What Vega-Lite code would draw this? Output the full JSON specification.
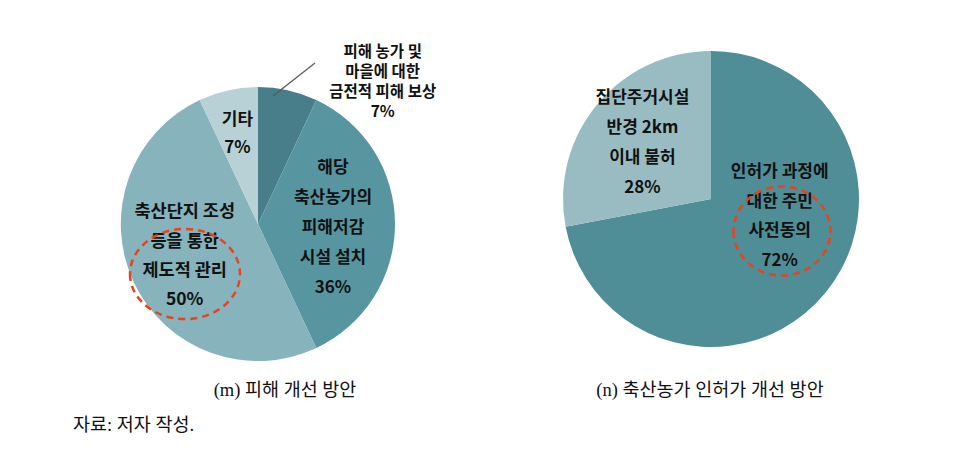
{
  "$schema": "https://vega.github.io/schema/vega-lite/v6.json",
  "background": "white",
  "padding": 0,
  "spacing": 0,
  "bounds": "flush",
  "resolve": {"scale": {"color": "independent", "theta": "independent"}},
  "config": {"view": {"stroke": null}},
  "datasets": {
    "m": [
      {"idx": 1, "item": "금전적 피해 보상", "value": 7, "label": ["피해 농가 및", "마을에 대한", "금전적 피해 보상", "7%"]},
      {"idx": 2, "item": "피해저감 시설 설치", "value": 36, "label": ["해당", "축산농가의", "피해저감", "시설 설치", "36%"]},
      {"idx": 3, "item": "제도적 관리", "value": 50, "label": ["축산단지 조성", "등을 통한", "제도적 관리", "50%"]},
      {"idx": 4, "item": "기타", "value": 7, "label": ["기타", "7%"]}
    ],
    "n": [
      {"idx": 1, "item": "주민 사전동의", "value": 72, "label": ["인허가 과정에", "대한 주민", "사전동의", "72%"]},
      {"idx": 2, "item": "2km 이내 불허", "value": 28, "label": ["집단주거시설", "반경 2km", "이내 불허", "28%"]}
    ]
  },
  "hconcat": [
    {
      "width": 516,
      "height": 448,
      "layer": [
        {
          "data": {"name": "m"},
          "mark": {"type": "arc", "radius": 137},
          "encoding": {
            "theta": {"field": "value", "type": "quantitative", "stack": true},
            "order": {"field": "idx", "type": "quantitative"},
            "color": {
              "field": "item", "type": "nominal", "legend": null,
              "scale": {
                "domain": ["금전적 피해 보상", "피해저감 시설 설치", "제도적 관리", "기타"],
                "range": ["#477E89", "#5796A1", "#86B3BC", "#B8D1D6"]
              }
            }
          }
        },
        {
          "data": {"name": "m"},
          "mark": {"type": "text", "radius": 75, "dy": -56, "font": "Noto Sans CJK KR", "fontWeight": "bold", "fontSize": 17, "lineHeight": 30, "color": "#111111", "align": "center", "baseline": "middle"},
          "encoding": {
            "theta": {"field": "value", "type": "quantitative", "stack": true},
            "order": {"field": "idx", "type": "quantitative"},
            "text": {"condition": {"test": "datum.idx == 2", "field": "label"}, "value": ""}
          }
        },
        {
          "data": {"name": "m"},
          "mark": {"type": "text", "radius": 81, "dy": -46, "font": "Noto Sans CJK KR", "fontWeight": "bold", "fontSize": 17.5, "lineHeight": 29.3, "color": "#111111", "align": "center", "baseline": "middle"},
          "encoding": {
            "theta": {"field": "value", "type": "quantitative", "stack": true},
            "order": {"field": "idx", "type": "quantitative"},
            "text": {"condition": {"test": "datum.idx == 3", "field": "label"}, "value": ""}
          }
        },
        {
          "data": {"name": "m"},
          "mark": {"type": "text", "radius": 94, "dy": -12, "font": "Noto Sans CJK KR", "fontWeight": "bold", "fontSize": 17, "lineHeight": 28, "color": "#111111", "align": "center", "baseline": "middle"},
          "encoding": {
            "theta": {"field": "value", "type": "quantitative", "stack": true},
            "order": {"field": "idx", "type": "quantitative"},
            "text": {"condition": {"test": "datum.idx == 4", "field": "label"}, "value": ""}
          }
        },
        {
          "data": {"name": "m"},
          "mark": {"type": "text", "radius": 150, "dx": 92, "dy": -26, "font": "Noto Sans CJK KR", "fontWeight": "bold", "fontSize": 15.5, "lineHeight": 20, "color": "#111111", "align": "center", "baseline": "middle"},
          "encoding": {
            "theta": {"field": "value", "type": "quantitative", "stack": true},
            "order": {"field": "idx", "type": "quantitative"},
            "text": {"condition": {"test": "datum.idx == 1", "field": "label"}, "value": ""}
          }
        },
        {
          "data": {"values": [{"note": "leader"}]},
          "mark": {"type": "rule", "color": "#595959", "strokeWidth": 1.3},
          "encoding": {
            "x": {"value": 273},
            "y": {"value": 96},
            "x2": {"value": 315},
            "y2": {"value": 63}
          }
        },
        {
          "data": {"values": [{"note": "highlight"}]},
          "mark": {"type": "point", "shape": "M -1 0 A 1 0.82 0 1 0 1 0 A 1 0.82 0 1 0 -1 0 Z", "size": 12100, "filled": false, "opacity": 1, "stroke": "#E8431E", "strokeWidth": 2.5, "strokeDash": [7, 5], "xOffset": -73, "yOffset": 50},
          "encoding": {}
        },
        {
          "data": {"values": [{"caption": "(m) 피해 개선 방안"}]},
          "mark": {"type": "text", "font": "Liberation Serif, Noto Sans CJK KR", "fontSize": 18.5, "color": "#111111", "align": "center", "baseline": "middle", "dx": 27, "dy": 166},
          "encoding": {"text": {"field": "caption"}}
        },
        {
          "data": {"values": [{"caption": "자료: 저자 작성."}]},
          "mark": {"type": "text", "font": "Liberation Serif, Noto Sans CJK KR", "fontSize": 18.5, "color": "#111111", "align": "left", "baseline": "middle", "dx": -185, "dy": 201},
          "encoding": {"text": {"field": "caption"}}
        }
      ]
    },
    {
      "width": 390,
      "height": 398,
      "layer": [
        {
          "data": {"name": "n"},
          "mark": {"type": "arc", "radius": 148},
          "encoding": {
            "theta": {"field": "value", "type": "quantitative", "stack": true},
            "order": {"field": "idx", "type": "quantitative"},
            "color": {
              "field": "item", "type": "nominal", "legend": null,
              "scale": {"domain": ["주민 사전동의", "2km 이내 불허"], "range": ["#4F8D97", "#99BCC3"]}
            }
          }
        },
        {
          "data": {"name": "n"},
          "mark": {"type": "text", "radius": 71, "dx": 14, "dy": -72, "font": "Noto Sans CJK KR", "fontWeight": "bold", "fontSize": 17, "lineHeight": 29.5, "color": "#111111", "align": "center", "baseline": "middle"},
          "encoding": {
            "theta": {"field": "value", "type": "quantitative", "stack": true},
            "order": {"field": "idx", "type": "quantitative"},
            "text": {"condition": {"test": "datum.idx == 1", "field": "label"}, "value": ""}
          }
        },
        {
          "data": {"name": "n"},
          "mark": {"type": "text", "radius": 89, "dy": -44, "font": "Noto Sans CJK KR", "fontWeight": "bold", "fontSize": 17, "lineHeight": 30, "color": "#111111", "align": "center", "baseline": "middle"},
          "encoding": {
            "theta": {"field": "value", "type": "quantitative", "stack": true},
            "order": {"field": "idx", "type": "quantitative"},
            "text": {"condition": {"test": "datum.idx == 2", "field": "label"}, "value": ""}
          }
        },
        {
          "data": {"values": [{"note": "highlight"}]},
          "mark": {"type": "point", "shape": "M -1 0 A 1 0.918 0 1 0 1 0 A 1 0.918 0 1 0 -1 0 Z", "size": 9409, "filled": false, "opacity": 1, "stroke": "#E8431E", "strokeWidth": 2.5, "strokeDash": [7, 5], "xOffset": 71, "yOffset": 32},
          "encoding": {}
        },
        {
          "data": {"values": [{"caption": "(n) 축산농가 인허가 개선 방안"}]},
          "mark": {"type": "text", "font": "Liberation Serif, Noto Sans CJK KR", "fontSize": 18.5, "color": "#111111", "align": "center", "baseline": "middle", "dx": -1, "dy": 191},
          "encoding": {"text": {"field": "caption"}}
        }
      ]
    }
  ]
}
